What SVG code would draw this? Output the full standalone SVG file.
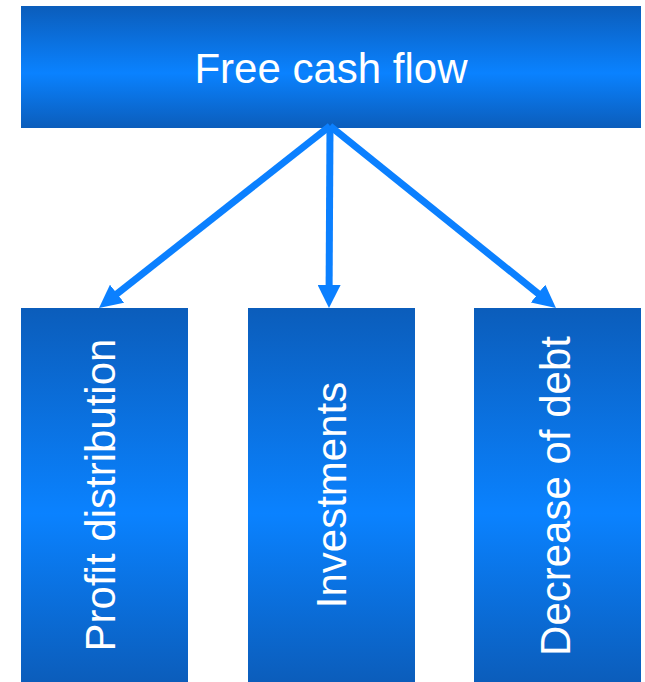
<svg xmlns="http://www.w3.org/2000/svg" width="645" height="682" viewBox="0 0 645 682">
  <style>
    .box { stroke: none; }
    .lbl { font-family: "Liberation Sans", Arial, sans-serif; font-size: 42px; fill: #ffffff; text-anchor: middle; }
    .conn { stroke: #0B80FF; stroke-width: 7; fill: none; }
  </style>
  <defs>
    <linearGradient id="gTop" x1="0" y1="0" x2="0" y2="1">
      <stop offset="0" stop-color="#0B5DBB"/>
      <stop offset="0.55" stop-color="#0A82FF"/>
      <stop offset="1" stop-color="#0B5DBB"/>
    </linearGradient>
    <linearGradient id="gBox" x1="0" y1="0" x2="0" y2="1">
      <stop offset="0" stop-color="#0B5DBB"/>
      <stop offset="0.55" stop-color="#0A82FF"/>
      <stop offset="1" stop-color="#0B5DBB"/>
    </linearGradient>
    <marker id="ah" markerUnits="userSpaceOnUse" markerWidth="23" markerHeight="23" refX="2" refY="11.5" orient="auto">
      <path d="M0,0 L23,11.5 L0,23 z" fill="#0B80FF"/>
    </marker>
  </defs>
  <g id="node-fcf">
    <rect class="box" x="21" y="6" width="620" height="122" fill="url(#gTop)"/>
    <text class="lbl" x="331" y="83">Free cash flow</text>
  </g>
  <g id="node-profit">
    <rect class="box" x="21" y="308" width="167" height="374" fill="url(#gBox)"/>
    <text class="lbl" transform="translate(114.5,495) rotate(-90)" x="0" y="0">Profit distribution</text>
  </g>
  <g id="node-invest">
    <rect class="box" x="248" y="308" width="167" height="374" fill="url(#gBox)"/>
    <text class="lbl" transform="translate(346,495) rotate(-90)" x="0" y="0">Investments</text>
  </g>
  <g id="node-debt">
    <rect class="box" x="474" y="308" width="167" height="374" fill="url(#gBox)"/>
    <text class="lbl" transform="translate(570,496) rotate(-90)" x="0" y="0">Decrease of debt</text>
  </g>
  <g id="connectors">
    <line class="conn" x1="330" y1="126" x2="115.5" y2="295" marker-end="url(#ah)"/>
    <line class="conn" x1="330" y1="126" x2="329.1" y2="287" marker-end="url(#ah)"/>
    <line class="conn" x1="330" y1="126" x2="539.6" y2="294.8" marker-end="url(#ah)"/>
  </g>
</svg>
